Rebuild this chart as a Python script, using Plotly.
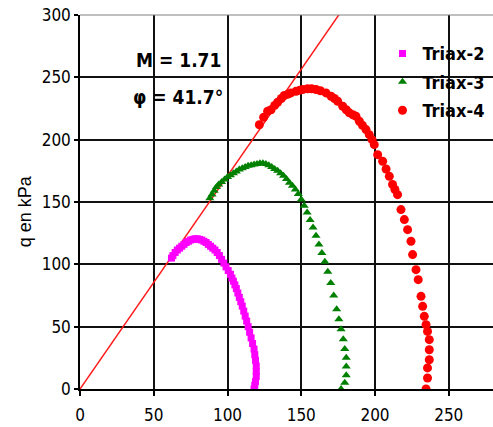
import plotly.graph_objects as go

# Triax-2
p2 = [62, 63, 64.5, 66, 67.5, 69, 70.5, 72, 73.5, 75, 76.5, 78, 79.5, 81, 82.5, 84, 85.5, 87, 88.5, 90,
      91.5, 93, 94.5, 96, 97.5, 99, 100.5, 102, 103, 104, 105, 106, 107, 108, 109, 110, 111, 112, 113, 114,
      115, 116, 117, 118, 118.5, 119, 119.5, 119.5, 119.5, 119, 118.5, 118]
q2 = [105, 107, 109.5, 111.5, 113, 114.5, 116, 117.5, 118.5, 119.5, 120, 120.5, 120.5, 120, 119.5, 118.5, 117.5, 116, 114.5, 113,
      111.5, 109.5, 107, 104, 101, 98, 95, 92, 89, 86.5, 83.5, 80.5, 77, 73.5, 70, 66.5, 62.5, 58.5, 54.5, 50,
      45.5, 41, 36.5, 32, 27.5, 23, 18.5, 14, 10, 6, 3, 0]

# Triax-3
p3 = [88, 89.5, 91, 92.5, 94, 96, 98, 100, 102, 104, 106, 108, 110, 112, 114, 116, 118, 120, 122, 124,
      126, 128, 130, 132, 134, 136, 138, 140, 142, 144, 146, 148, 150, 152, 154, 156, 158, 160, 162, 164,
      166, 168, 170, 172, 174, 175.5, 177, 178.5, 179.5, 180.5, 180.5, 180.5, 179.5, 177]
q3 = [153, 156, 159, 162, 164, 166, 168, 170, 171.5, 173, 174.5, 176, 177, 178, 179, 179.5, 180, 180.5, 181, 181,
      180.5, 179.5, 178, 176.5, 175, 173, 171, 168.5, 165.5, 163, 160, 156.5, 152, 147, 141.5, 135.5, 129.5, 123, 116, 109,
      102, 94, 85, 75, 64, 56, 48, 40, 32, 25, 18, 11, 5, 0]

# Triax-4
p4 = [121.6, 124.5, 127.2, 129.5, 132, 134, 136.5, 138.5, 141, 143, 146.5, 149, 151, 154.3, 157, 160, 163, 166.8, 170.2, 172.5,
      174.7, 178.1, 180.5, 182.6, 185, 187.1, 189.4, 191.5, 193.9, 196.1, 198, 199.5, 201.8, 205.2, 207.5, 209.7, 211.9, 213.5, 215.3, 217.6,
      219.9, 222.1, 224.4, 225.5, 227.8, 229.3, 231.2, 232.3, 233.4, 234.6, 235.6, 236.8, 236.8, 236.8, 235.6, 235.6, 234.6]
q4 = [212, 218, 222.8, 224, 227.5, 230, 233, 235.4, 236.5, 237.5, 238.8, 239.7, 240.2, 240.8, 240.8, 240.2, 239.2, 237.5, 234.8, 233,
      230.8, 226.8, 224, 221.5, 220, 218.8, 214.8, 211.5, 208.1, 204, 200, 196, 188, 182.7, 176.5, 170.6, 164, 160, 155.9, 143.9,
      135.9, 127.8, 118.5, 107.8, 95.7, 87.7, 74.3, 66.3, 58.3, 51.6, 46.2, 39.6, 31.5, 23.5, 16.9, 8.8, 0]

# Critical state line q = M p
line_p = [0, 177]
line_q = [0, 302.7]

x_ticks = [0, 50, 100, 150, 200, 250]
y_ticks = [0, 50, 100, 150, 200, 250, 300]

NARROW = "DejaVu Sans Condensed, Liberation Sans Narrow, Arial Narrow, Liberation Sans, sans-serif"

fig = go.Figure()
fig.add_trace(go.Scatter(x=line_p, y=line_q, mode="lines", line=dict(color="#ff1a1a", width=1.5),
                         showlegend=False, hoverinfo="skip"))
fig.add_trace(go.Scatter(x=p2, y=q2, mode="markers", name="<b>Triax-2</b>", legendgroup="a",
                         marker=dict(symbol="square", size=7, color="#ff00ff")))
fig.add_trace(go.Scatter(x=p3, y=q3, mode="markers", name="<b>Triax-3</b>", legendgroup="b",
                         marker=dict(symbol="triangle-up", size=8, color="#008000")))
fig.add_trace(go.Scatter(x=p4, y=q4, mode="markers", name="<b>Triax-4</b>", legendgroup="c",
                         marker=dict(symbol="circle", size=9, color="#ff0000")))

def px2x(px):
    return (px - 80.5) / 413.0

def py2y(py):
    return (389.3 - py) / 374.0

shapes = [
    dict(type="rect", xref="paper", yref="paper", x0=px2x(124), x1=px2x(236), y0=py2y(110), y1=py2y(33),
         fillcolor="white", line=dict(width=0), layer="between"),
    dict(type="rect", xref="paper", yref="paper", x0=px2x(397), x1=px2x(483), y0=py2y(128), y1=py2y(35),
         fillcolor="white", line=dict(width=0), layer="between"),
    dict(type="line", xref="paper", yref="paper", x0=0, x1=1, y0=1, y1=1,
         line=dict(color="#808080", width=1), layer="above"),
]

annotations = [
    dict(text="<b>M = 1.71</b>", x=px2x(179), y=py2y(60), xref="paper", yref="paper", showarrow=False,
         font=dict(family=NARROW, size=19, color="black"), xanchor="center", yanchor="middle"),
    dict(text="<b>\u03c6 = 41.7\u00b0</b>", x=px2x(178), y=py2y(97), xref="paper", yref="paper", showarrow=False,
         font=dict(family=NARROW, size=19, color="black"), xanchor="center", yanchor="middle"),
    dict(text="q en kPa", x=px2x(25), y=py2y(212), xref="paper", yref="paper", showarrow=False,
         textangle=-90, font=dict(family="Liberation Sans, Arial, sans-serif", size=18, color="black"),
         xanchor="center", yanchor="middle"),
]

fig.update_layout(
    width=493, height=427,
    margin=dict(l=80, r=0, t=15, b=38),
    paper_bgcolor="white", plot_bgcolor="white",
    shapes=shapes, annotations=annotations,
    showlegend=True,
    legend=dict(x=px2x(383), y=py2y(35.5), xanchor="left", yanchor="top",
                bgcolor="rgba(0,0,0,0)", borderwidth=0,
                font=dict(family=NARROW, size=18, color="black"),
                traceorder="grouped", tracegroupgap=2, itemwidth=30),
    xaxis=dict(range=[0, 280], tickvals=x_ticks, ticktext=[str(v) for v in x_ticks],
               showgrid=True, gridcolor="#111111", gridwidth=1.5,
               showline=True, linecolor="black", linewidth=1.5,
               ticks="outside", ticklen=5, tickcolor="black", tickwidth=1.5,
               ticklabelstandoff=5,
               tickfont=dict(family=NARROW, size=17, color="black"),
               zeroline=False, fixedrange=True),
    yaxis=dict(range=[0, 300], tickvals=y_ticks, ticktext=[str(v) for v in y_ticks],
               showgrid=True, gridcolor="#111111", gridwidth=1.5,
               showline=True, linecolor="black", linewidth=1.5,
               ticks="outside", ticklen=4, tickcolor="black", tickwidth=1.5,
               tickfont=dict(family=NARROW, size=17, color="black"),
               zeroline=False, fixedrange=True),
)

fig.write_html("out.html")
